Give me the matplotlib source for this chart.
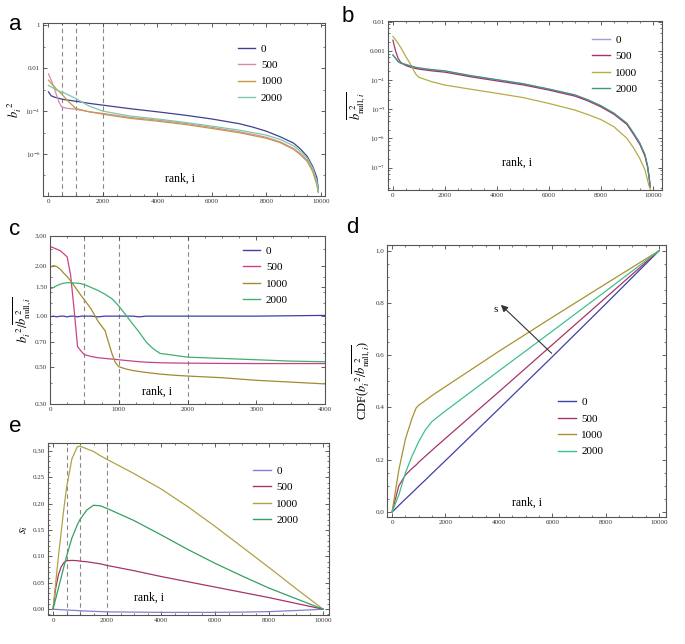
import numpy as np
import matplotlib
matplotlib.use('Agg')
import matplotlib.pyplot as plt
from matplotlib.ticker import FixedLocator, AutoMinorLocator, NullFormatter, LogLocator

plt.rcParams['font.family'] = ['Liberation Serif', 'DejaVu Serif']
plt.rcParams['mathtext.fontset'] = 'stix'

series = ['0', '500', '1000', '2000']

# panel a : b_i^2
a_rank = [0, 100, 200, 300, 400, 500, 700, 1000, 1500, 2000, 3000, 4000, 5000,
          6000, 7000, 7500, 8000, 8500, 9000, 9250, 9500, 9700, 9850, 9900]
a_0 = [7.9e-4, 5.2e-4, 4.6e-4, 4.2e-4, 3.9e-4, 3.6e-4, 3.3e-4, 2.9e-4, 2.3e-4, 1.9e-4, 1.3e-4,
       9.3e-5, 6.5e-5, 4.3e-5, 2.6e-5, 1.8e-5, 1.15e-5, 6.4e-6, 3.2e-6, 1.7e-6, 7.6e-7, 2.6e-7, 8e-8, 2.5e-8]
a_500 = [5.5e-3, 2.8e-3, 1.3e-3, 5.5e-4, 2.4e-4, 1.5e-4, 1.35e-4, 1.24e-4, 9.3e-5, 7.8e-5, 5.1e-5,
         3.8e-5, 2.7e-5, 1.74e-5, 1.1e-5, 8.3e-6, 6.0e-6, 3.7e-6, 1.8e-6, 1.0e-6, 5.2e-7, 1.8e-7, 4.4e-8, 1.8e-8]
a_1000 = [2.8e-3, 2.0e-3, 1.45e-3, 1.05e-3, 7.9e-4, 6.0e-4, 3.1e-4, 1.33e-4, 9.3e-5, 7.2e-5, 4.6e-5,
          3.4e-5, 2.4e-5, 1.55e-5, 9.8e-6, 7.3e-6, 5.4e-6, 3.4e-6, 1.65e-6, 9.2e-7, 4.4e-7, 1.5e-7, 3.6e-8, 1.6e-8]
a_2000 = [1.6e-3, 1.35e-3, 1.13e-3, 9.5e-4, 8.5e-4, 7.9e-4, 6.0e-4, 3.9e-4, 1.7e-4, 1.0e-4, 5.9e-5,
          4.3e-5, 3.0e-5, 2.0e-5, 1.3e-5, 1.0e-5, 7.6e-6, 4.8e-6, 2.4e-6, 1.3e-6, 6.3e-7, 2.2e-7, 5.2e-8, 2.0e-8]

# panel b : null b^2
b_rank = [0, 100, 200, 300, 500, 700, 800, 900, 1000, 1500, 2000, 3000, 4000, 5000, 6000,
          7000, 7500, 8000, 8500, 9000, 9250, 9500, 9700, 9800, 9850, 9900]
b_0 = [7.5e-4, 5.5e-4, 4.2e-4, 3.7e-4, 3.3e-4, 2.9e-4, 2.75e-4, 2.6e-4, 2.5e-4, 2.2e-4, 2.0e-4,
       1.37e-4, 1.0e-4, 7.3e-5, 4.8e-5, 3.0e-5, 2.05e-5, 1.28e-5, 7.1e-6, 3.2e-6, 1.5e-6,
       6.6e-7, 2.6e-7, 1.05e-7, 5e-8, 2.2e-8]
b_500 = [2.3e-3, 1.0e-3, 5.5e-4, 4.0e-4, 3.1e-4, 2.7e-4, 2.55e-4, 2.45e-4, 2.35e-4, 2.05e-4, 1.85e-4,
         1.28e-4, 9.3e-5, 6.8e-5, 4.5e-5, 2.8e-5, 1.92e-5, 1.2e-5, 6.7e-6, 3.0e-6, 1.4e-6,
         6.2e-7, 2.4e-7, 1.0e-7, 4.8e-8, 2.1e-8]
b_1000 = [3.1e-3, 2.4e-3, 1.8e-3, 1.3e-3, 6.3e-4, 3.2e-4, 2.1e-4, 1.5e-4, 1.23e-4, 8.7e-5, 6.7e-5,
          4.8e-5, 3.5e-5, 2.5e-5, 1.57e-5, 9.3e-6, 6.5e-6, 4.4e-6, 2.5e-6, 1.0e-6, 4.8e-7,
          2.0e-7, 8.1e-8, 3.5e-8, 2.4e-8, 1.8e-8]
b_2000 = [7.0e-4, 5.6e-4, 4.3e-4, 3.8e-4, 3.4e-4, 3.0e-4, 2.85e-4, 2.7e-4, 2.6e-4, 2.27e-4, 2.06e-4,
          1.41e-4, 1.03e-4, 7.5e-5, 4.9e-5, 3.1e-5, 2.1e-5, 1.32e-5, 7.3e-6, 3.3e-6, 1.55e-6,
          6.8e-7, 2.7e-7, 1.08e-7, 5.1e-8, 2.3e-8]

# panel c : ratio
c_rank = [0, 50, 100, 150, 200, 250, 300, 350, 400, 450, 500, 600, 700, 800, 900, 950, 1000,
          1100, 1200, 1300, 1400, 1500, 1600, 1800, 2000, 2500, 3000, 3500, 4000]
c_0 = [0.99, 1.0, 0.99, 1.0, 1.0, 0.99, 1.0, 1.0, 0.99, 1.0, 1.0, 1.0, 0.99, 1.0, 1.0, 1.0, 1.0,
       1.0, 1.0, 0.99, 1.0, 1.0, 1.0, 1.0, 1.0, 1.0, 1.0, 1.005, 1.01]
c_500 = [2.6, 2.55, 2.5, 2.45, 2.35, 2.25, 1.75, 1.1, 0.66, 0.62, 0.59, 0.575, 0.565, 0.56, 0.555,
         0.553, 0.55, 0.545, 0.54, 0.535, 0.532, 0.53, 0.528, 0.526, 0.525, 0.523, 0.522, 0.522, 0.522]
c_1000 = [1.95, 2.0, 1.97, 1.9, 1.8, 1.72, 1.62, 1.52, 1.42, 1.33, 1.25, 1.1, 0.93, 0.82, 0.6,
          0.53, 0.5, 0.485, 0.475, 0.468, 0.462, 0.457, 0.452, 0.445, 0.44, 0.43, 0.415, 0.405, 0.395]
c_2000 = [1.45, 1.48, 1.52, 1.55, 1.57, 1.58, 1.58, 1.575, 1.57, 1.56, 1.54, 1.48, 1.42, 1.35, 1.27,
          1.21, 1.15, 1.02, 0.9, 0.8, 0.7, 0.64, 0.6, 0.585, 0.57, 0.56, 0.55, 0.54, 0.535]

# panel d : CDF
d_rank = [0, 250, 500, 750, 900, 1000, 1250, 1500, 2000, 4000, 6000, 8000, 10000]
d_0 = [0, 0.025, 0.05, 0.074, 0.089, 0.099, 0.123, 0.148, 0.197, 0.395, 0.594, 0.796, 1.0]
d_500 = [0, 0.1, 0.142, 0.167, 0.18, 0.191, 0.214, 0.237, 0.282, 0.46, 0.64, 0.82, 1.0]
d_1000 = [0, 0.16, 0.28, 0.36, 0.398, 0.409, 0.427, 0.446, 0.48, 0.615, 0.745, 0.873, 1.0]
d_2000 = [0, 0.065, 0.15, 0.215, 0.248, 0.27, 0.315, 0.347, 0.387, 0.54, 0.692, 0.845, 1.0]

# panel e : s_i
e_rank = [0, 100, 200, 300, 400, 500, 700, 900, 1000, 1250, 1500, 1750, 2000, 3000, 4000,
          5000, 6000, 7000, 8000, 9000, 10000]
e_0 = [0, -0.0003, -0.0006, -0.001, -0.0012, -0.0015, -0.002, -0.0025, -0.003, -0.0035, -0.004,
       -0.0045, -0.005, -0.0055, -0.006, -0.006, -0.006, -0.0055, -0.0045, -0.0025, 0]
e_500 = [0, 0.04, 0.065, 0.08, 0.088, 0.092, 0.0925, 0.092, 0.091, 0.09, 0.088, 0.086, 0.083,
         0.073, 0.062, 0.052, 0.042, 0.032, 0.022, 0.011, 0]
e_1000 = [0, 0.05, 0.10, 0.145, 0.19, 0.23, 0.285, 0.308, 0.309, 0.304, 0.299, 0.291, 0.284,
          0.257, 0.228, 0.194, 0.157, 0.118, 0.079, 0.039, 0]
e_2000 = [0, 0.02, 0.04, 0.06, 0.08, 0.10, 0.135, 0.16, 0.17, 0.188, 0.197, 0.196, 0.191,
          0.168, 0.141, 0.113, 0.087, 0.063, 0.04, 0.02, 0]

cols_a = ['#3f3f95', '#d58aae', '#c49a45', '#7ccaa6']
cols_b = ['#9c9ce0', '#a8336a', '#b5ac45', '#3f9682']
cols_c = ['#3f3fa5', '#c8428a', '#a38a32', '#3fb070']
cols_d = ['#3f3fa5', '#a8336a', '#a89232', '#3fbf90']
cols_e = ['#8080d0', '#a8336a', '#b0a245', '#35a062']

fig = plt.figure(figsize=(6.85, 6.44), dpi=100)
ax_a = fig.add_axes([0.0628, 0.6957, 0.4117, 0.2686])
ax_b = fig.add_axes([0.5664, 0.7050, 0.4000, 0.2624])
ax_c = fig.add_axes([0.0730, 0.3727, 0.4015, 0.2609])
ax_d = fig.add_axes([0.5650, 0.1972, 0.4073, 0.4225])
ax_e = fig.add_axes([0.0701, 0.0450, 0.4102, 0.2671])


def frame(ax):
    for s in ax.spines.values():
        s.set_color('#555555')
        s.set_linewidth(0.8)
    ax.tick_params(which='both', direction='in', top=True, right=True,
                   labelsize=5, colors='#444444', labelcolor='#333333', pad=2)
    ax.tick_params(which='major', length=3, width=0.6)
    ax.tick_params(which='minor', length=1.5, width=0.5)


def legend(ax, cols, x, y):
    hs = [plt.Line2D([], [], color=c, lw=1) for c in cols]
    ax.legend(hs, series, loc='upper left', bbox_to_anchor=(x, y), frameon=False,
              fontsize=8, handlelength=1.6, handletextpad=0.5, labelspacing=0.6,
              borderaxespad=0, borderpad=0)


def vlines(ax):
    for v in [500, 1000, 2000]:
        ax.axvline(v, color='#888888', ls=(0, (4, 3)), lw=0.8, zorder=1)


lw = 0.9

# a
for vals, c in zip([a_0, a_500, a_1000, a_2000], cols_a):
    ax_a.plot(a_rank, vals, color=c, lw=lw)
ax_a.set_yscale('log')
ax_a.set_ylim(1.1e-8, 1.3)
ax_a.set_xlim(-200, 10150)
vlines(ax_a)
ax_a.yaxis.set_major_locator(FixedLocator([1, 1e-2, 1e-4, 1e-6]))
ax_a.set_yticklabels(['1', '0.01', '$10^{-4}$', '$10^{-6}$'])
ax_a.yaxis.set_minor_locator(LogLocator(base=10, subs=[1.0], numticks=20))
ax_a.yaxis.set_minor_formatter(NullFormatter())
ax_a.set_xticks([0, 2000, 4000, 6000, 8000, 10000])
ax_a.xaxis.set_minor_locator(AutoMinorLocator(4))
frame(ax_a)
legend(ax_a, cols_a, 0.69, 0.88)
ax_a.text(0.486, 0.10, 'rank, i', transform=ax_a.transAxes, ha='center', va='center', fontsize=8.5)
ax_a.set_ylabel('$b_i^{\\ 2}$', fontsize=9, labelpad=1)

# b
for vals, c in zip([b_0, b_500, b_1000, b_2000], cols_b):
    ax_b.plot(b_rank, vals, color=c, lw=lw)
ax_b.set_yscale('log')
ax_b.set_ylim(1.7e-8, 0.0105)
ax_b.set_xlim(-190, 10350)
ax_b.yaxis.set_major_locator(FixedLocator([1e-2, 1e-3, 1e-4, 1e-5, 1e-6, 1e-7]))
ax_b.set_yticklabels(['0.01', '0.001', '$10^{-4}$', '$10^{-5}$', '$10^{-6}$', '$10^{-7}$'])
ax_b.yaxis.set_minor_locator(LogLocator(base=10, subs=[2, 4, 6, 8], numticks=20))
ax_b.yaxis.set_minor_formatter(NullFormatter())
ax_b.set_xticks([0, 2000, 4000, 6000, 8000, 10000])
ax_b.xaxis.set_minor_locator(AutoMinorLocator(4))
frame(ax_b)
legend(ax_b, cols_b, 0.745, 0.917)
ax_b.text(0.47, 0.16, 'rank, i', transform=ax_b.transAxes, ha='center', va='center', fontsize=8.5)
ax_b.set_ylabel('$\\overline{b_{\\mathrm{null},i}^{\\ 2}}$', fontsize=9, labelpad=1)

# c
for vals, c in zip([c_0, c_500, c_1000, c_2000], cols_c):
    ax_c.plot(c_rank, vals, color=c, lw=lw)
ax_c.set_yscale('log')
ax_c.set_ylim(0.3, 3.0)
ax_c.set_xlim(0, 4000)
vlines(ax_c)
ax_c.yaxis.set_major_locator(FixedLocator([0.3, 0.5, 0.7, 1.0, 1.5, 2.0, 3.0]))
ax_c.set_yticklabels(['0.30', '0.50', '0.70', '1.00', '1.50', '2.00', '3.00'])
ax_c.yaxis.set_minor_locator(FixedLocator([0.4, 0.6, 0.8, 0.9, 1.2, 1.4, 1.7, 2.5]))
ax_c.yaxis.set_minor_formatter(NullFormatter())
ax_c.set_xticks([0, 1000, 2000, 3000, 4000])
ax_c.xaxis.set_minor_locator(AutoMinorLocator(4))
frame(ax_c)
legend(ax_c, cols_c, 0.70, 0.94)
ax_c.text(0.39, 0.075, 'rank, i', transform=ax_c.transAxes, ha='center', va='center', fontsize=8.5)
ax_c.set_ylabel('$b_i^{\\ 2}/\\overline{b_{\\mathrm{null},i}^{\\ 2}}$', fontsize=9, labelpad=1)

# d
for vals, c in zip([d_0, d_500, d_1000, d_2000], cols_d):
    ax_d.plot(d_rank, vals, color=c, lw=lw)
ax_d.set_xlim(-190, 10260)
ax_d.set_ylim(-0.019, 1.022)
ax_d.set_yticks([0, 0.2, 0.4, 0.6, 0.8, 1.0])
ax_d.set_yticklabels(['0.0', '0.2', '0.4', '0.6', '0.8', '1.0'])
ax_d.yaxis.set_minor_locator(AutoMinorLocator(4))
ax_d.set_xticks([0, 2000, 4000, 6000, 8000, 10000])
ax_d.xaxis.set_minor_locator(AutoMinorLocator(4))
frame(ax_d)
legend(ax_d, cols_d, 0.613, 0.44)
ax_d.annotate('', xy=(4000, 0.8), xytext=(6050, 0.6),
              arrowprops=dict(arrowstyle='-|>', color='#333333', lw=0.8, mutation_scale=10))
ax_d.text(3950, 0.775, 's', fontsize=8, ha='right', va='center')
ax_d.text(0.50, 0.054, 'rank, i', transform=ax_d.transAxes, ha='center', va='center', fontsize=8.5)
ax_d.set_ylabel('CDF($b_i^{\\ 2}/\\overline{b_{\\mathrm{null},i}^{\\ 2}}$)', fontsize=9, labelpad=2)

# e
for vals, c in zip([e_0, e_500, e_1000, e_2000], cols_e):
    ax_e.plot(e_rank, vals, color=c, lw=lw)
ax_e.set_xlim(-185, 10220)
ax_e.set_ylim(-0.011, 0.315)
vlines(ax_e)
ax_e.set_yticks([0, 0.05, 0.10, 0.15, 0.20, 0.25, 0.30])
ax_e.set_yticklabels(['0.00', '0.05', '0.10', '0.15', '0.20', '0.25', '0.30'])
ax_e.yaxis.set_minor_locator(AutoMinorLocator(5))
ax_e.set_xticks([0, 2000, 4000, 6000, 8000, 10000])
ax_e.xaxis.set_minor_locator(AutoMinorLocator(4))
frame(ax_e)
legend(ax_e, cols_e, 0.73, 0.866)
ax_e.text(0.36, 0.10, 'rank, i', transform=ax_e.transAxes, ha='center', va='center', fontsize=8.5)
ax_e.set_ylabel('$s_i$', fontsize=9, labelpad=2)

# panel letters
for lab, x, y in [('a', 0.022, 0.962), ('b', 0.508, 0.975), ('c', 0.022, 0.643),
                  ('d', 0.515, 0.647), ('e', 0.022, 0.337)]:
    fig.text(x, y, lab, fontsize=16, family='Liberation Sans', ha='center', va='center')

fig.savefig('out.png', dpi=100)
